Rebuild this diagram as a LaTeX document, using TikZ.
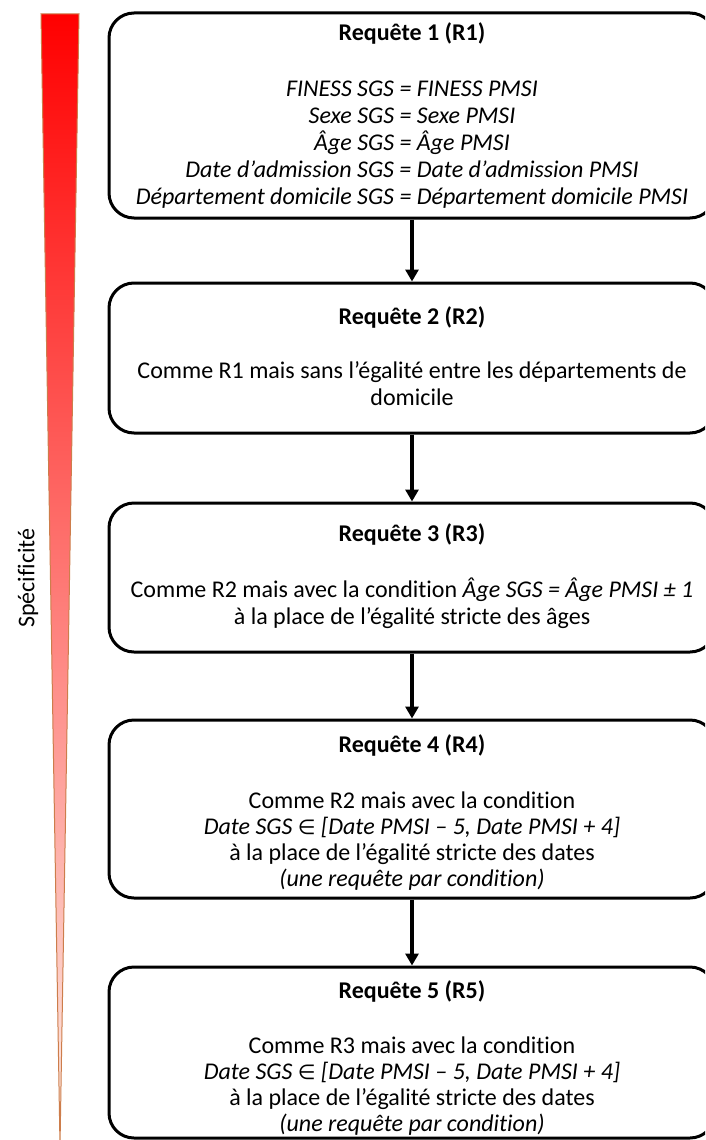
\documentclass[tikz,border=0pt]{standalone}
\usepackage{fontspec}
\setmainfont{Carlito}[Ligatures=NoCommon]
\newfontfamily\symfont[Scale=0.85]{DejaVu Sans}
\usepackage{tikz}
\usetikzlibrary{arrows.meta,positioning}

\definecolor{wedgetop}{RGB}{255,0,0}
\definecolor{wedgemid}{RGB}{252,165,150}
\definecolor{wedgebot}{RGB}{253,240,232}
\definecolor{wedgeline}{RGB}{205,125,75}

\newcommand{\elem}{{\symfont ∈}}

\begin{document}
\begin{tikzpicture}[
  x=1pt, y=-1pt,
  flow/.style={-{Triangle[length=12pt,width=13pt]}, line width=4pt},
  qbox/.style={draw, line width=3pt, rectangle, rounded corners=25pt, minimum width=606pt},
  qtxt/.style={align=center, inner sep=0pt, font=\fontsize{24}{27}\selectfont},
  qtxtlong/.style={qtxt, font=\fontsize{24}{26}\selectfont},
  axlbl/.style={font=\fontsize{24}{27}\selectfont, rotate=90}
]
  \useasboundingbox (0,0) rectangle (705,1140);
  \clip (0,0) rectangle (705,1140);

  % --- ECHELLE DE SPECIFICITE ---
  \shade[top color=wedgetop, middle color=wedgemid, bottom color=wedgebot] (41,14) -- (79,14) -- (60,1146) -- cycle;
  \draw[wedgeline, line width=1pt] (41,14) -- (79,14) -- (60,1146) -- cycle;
  \node[axlbl] (spec) at (28,578) {Spécificité};

  % --- REQUETES ---
  \node[qbox, minimum height=205pt] (r1) at (412,115.5) {};
  \node[qtxt] (t1) at (412,116) {\textbf{Requête 1 (R1)}\\[29pt]
    \textit{FINESS SGS = FINESS PMSI}\\
    \textit{Sexe SGS = Sexe PMSI}\\
    \textit{Âge SGS = Âge PMSI}\\
    \textit{Date d’admission SGS = Date d’admission PMSI}\\
    \textit{Département domicile SGS = Département domicile PMSI}};

  \node[qbox, minimum height=150pt] (r2) at (412,358) {};
  \node[qtxt] (t2) at (412,356.5) {\textbf{Requête 2 (R2)}\\[27pt]
    Comme R1 mais sans l’égalité entre les départements de\\
    domicile};

  \node[qbox, minimum height=149pt] (r3) at (412,577.5) {};
  \node[qtxt] (t3) at (412,576.5) {\textbf{Requête 3 (R3)}\\[29pt]
    Comme R2 mais avec la condition \textit{Âge SGS = Âge PMSI ± 1}\\
    à la place de l’égalité stricte des âges};

  \node[qbox, minimum height=178pt] (r4) at (412,809) {};
  \node[qtxtlong] (t4) at (412,813) {\textbf{Requête 4 (R4)}\\[30pt]
    Comme R2 mais avec la condition\\
    \textit{Date SGS \elem{} [Date PMSI – 5, Date PMSI + 4]}\\
    à la place de l’égalité stricte des dates\\
    \textit{(une requête par condition)}};

  \node[qbox, minimum height=171pt] (r5) at (412,1052.5) {};
  \node[qtxtlong] (t5) at (412,1058) {\textbf{Requête 5 (R5)}\\[29pt]
    Comme R3 mais avec la condition\\
    \textit{Date SGS \elem{} [Date PMSI – 5, Date PMSI + 4]}\\
    à la place de l’égalité stricte des dates\\
    \textit{(une requête par condition)}};

  % --- FLECHES ---
  \draw[flow] (r1) -- (r2);
  \draw[flow] (r2) -- (r3);
  \draw[flow] (r3) -- (r4);
  \draw[flow] (r4) -- (r5);

\end{tikzpicture}
\end{document}
